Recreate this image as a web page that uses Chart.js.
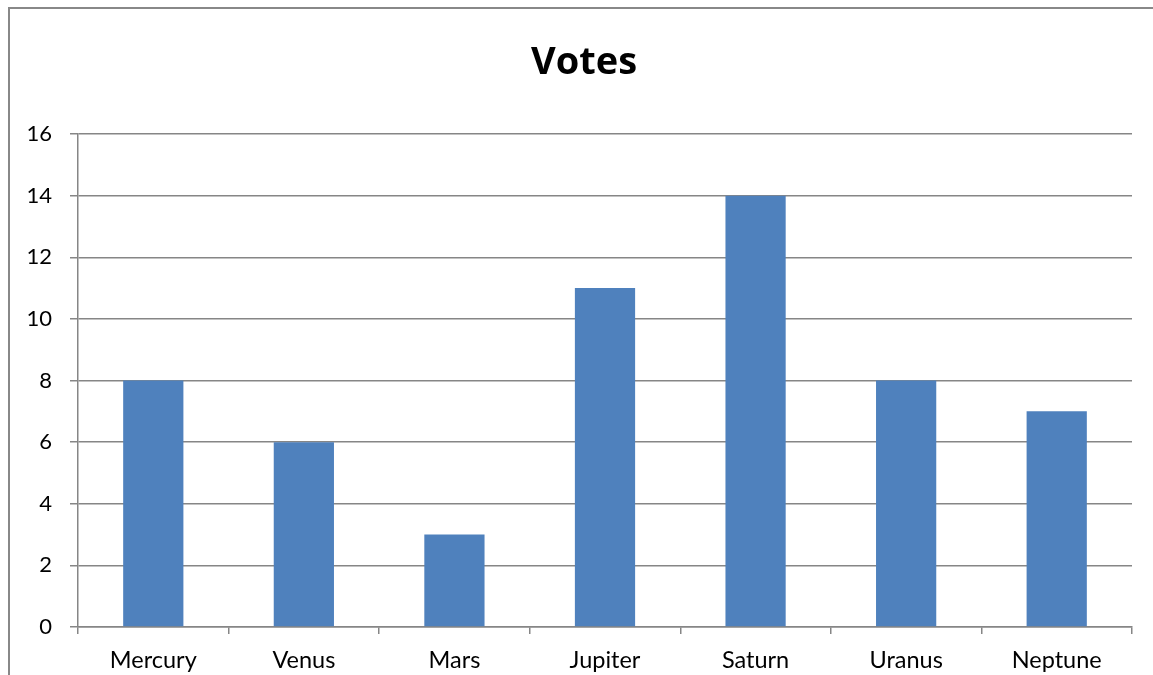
<!DOCTYPE html>
<html>
<head>
<meta charset="utf-8">
<title>Votes</title>
<script src="https://cdn.jsdelivr.net/npm/chart.js@4"></script>
<style>
    html, body { margin: 0; padding: 0; background: #fff; overflow: hidden; }
    #frame {
        position: absolute; left: 0; top: 0; width: 1153px; height: 675px;
    }
    #borda {
        position: absolute; left: 8px; top: 7px; width: 1200px; height: 700px;
        border-left: 2px solid #888; border-top: 2px solid #888;
        pointer-events: none;
    }
    canvas { position: absolute; left: 0; top: 0; }
</style>
</head>
<body>
<div id="frame">
    <canvas id="grafico" width="1153" height="675"></canvas>
    <div id="borda"></div>
</div>
<script>
const planetas = ['Mercury', 'Venus', 'Mars', 'Jupiter', 'Saturn', 'Uranus', 'Neptune'];
const votos = [8, 6, 3, 11, 14, 8, 7];
const yTicks = [0, 2, 4, 6, 8, 10, 12, 14, 16];

const corGrade = '#868686';
const fonte = "Lato, 'Open Sans', sans-serif";

// centraliza o título na moldura, não no canvas inteiro
const centralizarTitulo = {
    id: 'centralizarTitulo',
    afterLayout(chart) {
        if (chart.titleBlock) {
            chart.titleBlock.left = 36;
        }
    }
};

document.addEventListener("DOMContentLoaded", function() {
    const ctx = document.getElementById('grafico').getContext('2d');

    new Chart(ctx, {
        type: 'bar',
        data: {
            labels: planetas,
            datasets: [{
                label: 'Votes',
                data: votos,
                backgroundColor: '#4F81BD',
                borderWidth: 0,
                categoryPercentage: 1.0,
                barPercentage: 0.4
            }]
        },
        plugins: [centralizarTitulo],
        options: {
            responsive: false,
            animation: false,
            layout: { padding: { left: 0, right: 21, top: 0, bottom: 0 } },
            plugins: {
                legend: { display: false },
                tooltip: { enabled: false },
                title: {
                    display: true,
                    text: 'Votes',
                    color: '#000',
                    font: { family: "'Open Sans', Lato, sans-serif", size: 38, weight: 'bold', lineHeight: 1.2 },
                    padding: { top: 40, bottom: 48.4 }
                }
            },
            scales: {
                x: {
                    offset: true,
                    grid: {
                        offset: true,
                        drawOnChartArea: false,
                        drawTicks: true,
                        tickLength: 7,
                        color: corGrade,
                        lineWidth: 1.5
                    },
                    border: { display: true, color: corGrade, width: 1.5 },
                    ticks: {
                        color: '#000',
                        padding: 12,
                        font: { family: fonte, size: 23.5 }
                    },
                    afterFit: function(scale) { scale.height = 48; }
                },
                y: {
                    min: 0,
                    max: 16,
                    afterBuildTicks: function(scale) {
                        scale.ticks = yTicks.map(v => ({ value: v }));
                    },
                    grid: {
                        drawTicks: true,
                        tickLength: 8,
                        color: corGrade,
                        lineWidth: 1.5
                    },
                    border: { display: true, color: corGrade, width: 1.5 },
                    ticks: {
                        color: '#000',
                        padding: 18,
                        font: { family: fonte, size: 22 }
                    },
                    afterFit: function(scale) { scale.width = 78; }
                }
            }
        }
    });
});
</script>
</body>
</html>
